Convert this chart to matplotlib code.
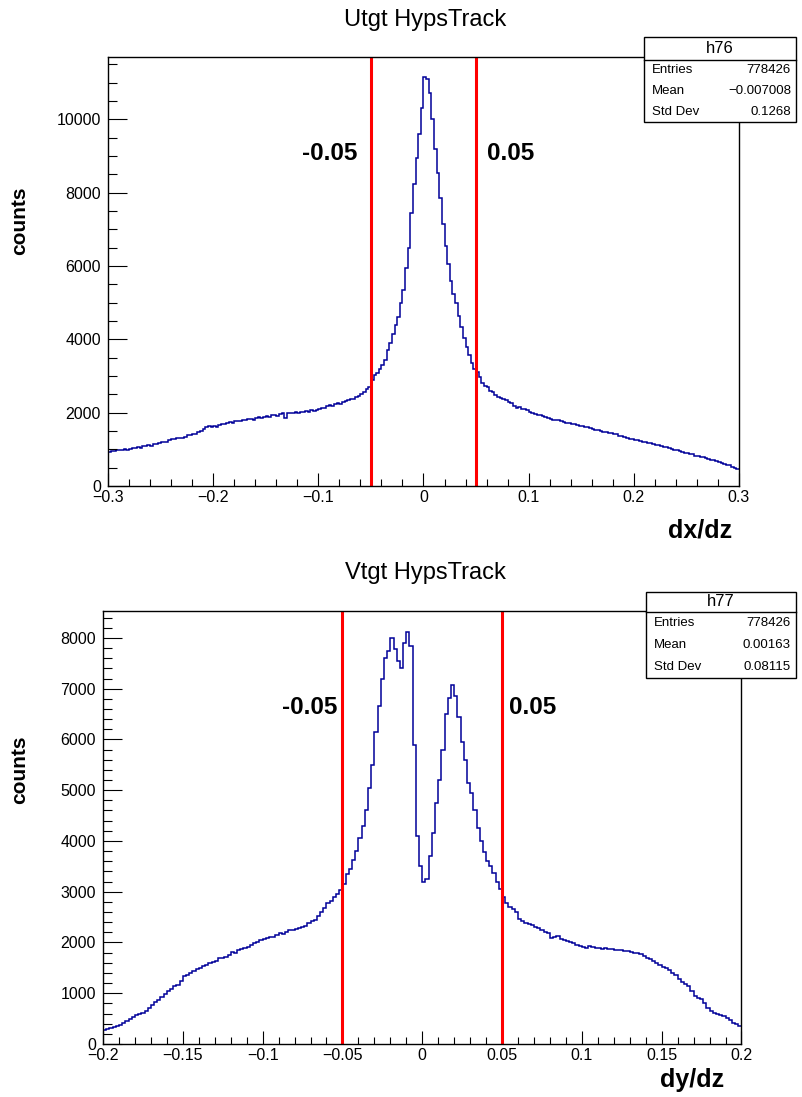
import numpy as np
import matplotlib
matplotlib.use("Agg")
import matplotlib.pyplot as plt
from matplotlib.patches import Rectangle
from matplotlib.ticker import MultipleLocator

# ---- data ----
u_range = (-0.3, 0.3)
u_counts = [
    930, 960, 945, 985, 970, 990, 1000, 985, 1010, 1025,
    1030, 1055, 1045, 1080, 1090, 1110, 1100, 1140, 1150, 1165,
    1190, 1210, 1200, 1250, 1280, 1270, 1300, 1320, 1310, 1345,
    1380, 1400, 1430, 1420, 1470, 1500, 1560, 1610, 1630, 1615,
    1640, 1620, 1660, 1690, 1680, 1710, 1740, 1720, 1760, 1780,
    1770, 1800, 1790, 1820, 1840, 1810, 1850, 1870, 1855, 1890,
    1900, 1880, 1930, 1950, 1920, 1970, 1985, 1850, 1990, 1980,
    2000, 2010, 1995, 2020, 2005, 2040, 2030, 2060, 2050, 2080,
    2100, 2130, 2120, 2170, 2200, 2190, 2230, 2260, 2250, 2290,
    2320, 2340, 2370, 2360, 2420, 2460, 2500, 2560, 2640, 2700,
    2900, 3030, 3070, 3180, 3300, 3450, 3700, 3900, 4150, 4380,
    4600, 5000, 5350, 5950, 6500, 7450, 8250, 8950, 9600, 10300,
    11150, 11100, 10720, 10000, 9200, 8550, 7850, 7150, 6550, 6050,
    5600, 5250, 4980, 4650, 4350, 4050, 3800, 3580, 3350, 3180,
    3100, 2960, 2820, 2740, 2690, 2600, 2570, 2480, 2440, 2400,
    2370, 2350, 2280, 2260, 2180, 2140, 2160, 2110, 2100, 2070,
    2010, 1990, 1975, 1940, 1945, 1900, 1885, 1850, 1840, 1810,
    1800, 1795, 1760, 1755, 1725, 1720, 1690, 1685, 1655, 1645,
    1625, 1615, 1600, 1585, 1555, 1540, 1520, 1505, 1480, 1470,
    1450, 1440, 1410, 1405, 1370, 1360, 1330, 1315, 1290, 1285,
    1265, 1245, 1235, 1210, 1200, 1170, 1165, 1140, 1130, 1105,
    1095, 1075, 1060, 1030, 1020, 990, 980, 950, 940, 910,
    895, 870, 860, 830, 820, 790, 780, 755, 750, 720,
    705, 685, 660, 635, 610, 585, 560, 530, 500, 470,
]

v_range = (-0.2, 0.2)
v_counts = [
    285, 300, 315, 330, 350, 380, 420, 455, 500, 530,
    575, 590, 620, 650, 700, 760, 830, 870, 930, 980,
    1050, 1080, 1140, 1170, 1250, 1330, 1360, 1400, 1440, 1480,
    1500, 1530, 1560, 1590, 1610, 1640, 1690, 1700, 1720, 1750,
    1820, 1800, 1850, 1880, 1890, 1920, 1960, 1990, 2010, 2040,
    2060, 2080, 2100, 2110, 2150, 2180, 2170, 2200, 2240, 2250,
    2270, 2290, 2310, 2330, 2380, 2420, 2450, 2520, 2600, 2680,
    2780, 2820, 2900, 2960, 3040, 3150, 3350, 3450, 3620, 3800,
    4050, 4300, 4600, 5050, 5500, 6150, 6650, 7200, 7600, 7750,
    7990, 7780, 7550, 7400, 7900, 8120, 7850, 5900, 4100, 3500,
    3200, 3250, 3700, 4150, 4750, 5200, 5800, 6500, 6820, 7070,
    6850, 6450, 5950, 5600, 5150, 4950, 4600, 4250, 4000, 3780,
    3600, 3500, 3370, 3200, 3050, 2900, 2780, 2700, 2660, 2600,
    2470, 2420, 2380, 2360, 2340, 2310, 2290, 2250, 2200, 2180,
    2090, 2110, 2130, 2060, 2050, 2030, 2010, 1980, 1960, 1930,
    1920, 1900, 1930, 1910, 1890, 1900, 1880, 1890, 1870, 1880,
    1860, 1850, 1860, 1840, 1830, 1820, 1800, 1790, 1770, 1740,
    1700, 1680, 1640, 1600, 1560, 1510, 1490, 1450, 1400, 1350,
    1280, 1230, 1190, 1140, 1040, 950, 910, 880, 800, 710,
    650, 620, 600, 580, 560, 520, 480, 420, 390, 350,
]

panels = [
    dict(title="Utgt HypsTrack", xlabel="dx/dz", name="h76", counts=u_counts, rng=u_range,
         entries="778426", mean="\u22120.007008", std="0.1268",
         ymax=11700, ymaj=2000, ymin=500, xmaj=0.1, xmin=0.02),
    dict(title="Vtgt HypsTrack", xlabel="dy/dz", name="h77", counts=v_counts, rng=v_range,
         entries="778426", mean="0.00163", std="0.08115",
         ymax=8530, ymaj=1000, ymin=200, xmaj=0.05, xmin=0.01),
]
cuts = [-0.05, 0.05]
cut_labels = ["-0.05", "0.05"]

# ---- layout (pixels of the 803x1097 reference) ----
W, H = 803, 1097
plt.rcParams['font.family'] = ['Liberation Sans', 'DejaVu Sans']

def fx(p):
    return p / W

def fy(p):
    return 1 - p / H

frames = [(108, 739, 57, 486), (103, 741.5, 611, 1044)]
title_y = [20, 573]
stat_boxes = [(644, 796, 37, 60, 122), (646, 796, 592, 612, 678)]
cut_text = [[(330, 154), (511, 154)], [(310, 707), (533, 708)]]
counts_pos = [(20, 221), (20, 770)]
xlabel_pos = [(700, 530), (692, 1080)]

fig = plt.figure(figsize=(W / 100, H / 100), dpi=100)

for k, p in enumerate(panels):
    l, r, t, b = frames[k]
    ax = fig.add_axes([fx(l), fy(b), (r - l) / W, (b - t) / H])
    n = len(p["counts"])
    edges = np.linspace(p["rng"][0], p["rng"][1], n + 1)
    ax.stairs(p["counts"], edges, color="#000099", lw=1.1, baseline=None)
    for c in cuts:
        ax.axvline(c, color="#ff0000", lw=2.2)
    ax.set_xlim(*p["rng"])
    ax.set_ylim(0, p["ymax"])
    ax.xaxis.set_major_locator(MultipleLocator(p["xmaj"]))
    ax.xaxis.set_minor_locator(MultipleLocator(p["xmin"]))
    ax.yaxis.set_major_locator(MultipleLocator(p["ymaj"]))
    ax.yaxis.set_minor_locator(MultipleLocator(p["ymin"]))
    ax.xaxis.set_major_formatter(matplotlib.ticker.FuncFormatter(
        lambda v, pos: ("%g" % round(v, 3)).replace("-", "\u2212") if abs(v) > 1e-9 else "0"))
    ax.tick_params(axis="y", which="major", direction="in", length=13.7, width=0.8,
                   labelsize=11.5, pad=5)
    ax.tick_params(axis="y", which="minor", direction="in", length=6.8, width=0.8)
    ax.tick_params(axis="x", which="major", direction="in", length=9.4, width=0.8,
                   labelsize=11.5, pad=3)
    ax.tick_params(axis="x", which="minor", direction="in", length=4.7, width=0.8)
    for s in ax.spines.values():
        s.set_linewidth(1.0)

    fig.text(fx(425), fy(title_y[k]), p["title"], ha="center", va="center", fontsize=17)

    # statistics box
    bl, br, bt, bd, bb = stat_boxes[k]
    fig.add_artist(Rectangle((fx(bl), fy(bb)), (br - bl) / W, (bb - bt) / H,
                             transform=fig.transFigure, facecolor="white",
                             edgecolor="black", lw=1.0, zorder=5))
    fig.add_artist(plt.Line2D([fx(bl), fx(br)], [fy(bd), fy(bd)],
                              transform=fig.transFigure, color="black", lw=1.0, zorder=6))
    fig.text(fx((bl + br) / 2), fy((bt + bd) / 2), p["name"], ha="center", va="center",
             fontsize=12, zorder=7)
    rows = [("Entries", p["entries"]), ("Mean", p["mean"]), ("Std Dev", p["std"])]
    step = (bb - bd) / 3
    for i, (lab, val) in enumerate(rows):
        yy = fy(bd + step * (i + 0.5))
        fig.text(fx(bl + 8), yy, lab, ha="left", va="center", fontsize=9.5, zorder=7)
        fig.text(fx(br - 5), yy, val, ha="right", va="center", fontsize=9.5, zorder=7)

    for (px, py), lab in zip(cut_text[k], cut_labels):
        fig.text(fx(px), fy(py), lab, ha="center", va="center", fontsize=17.5,
                 fontweight="bold")
    fig.text(fx(counts_pos[k][0]), fy(counts_pos[k][1]), "counts", rotation=90,
             ha="center", va="center", fontsize=15, fontweight="bold")
    fig.text(fx(xlabel_pos[k][0]), fy(xlabel_pos[k][1]), p["xlabel"], ha="center",
             va="center", fontsize=18, fontweight="bold")

fig.savefig("out.png", dpi=100)
plt.close(fig)
